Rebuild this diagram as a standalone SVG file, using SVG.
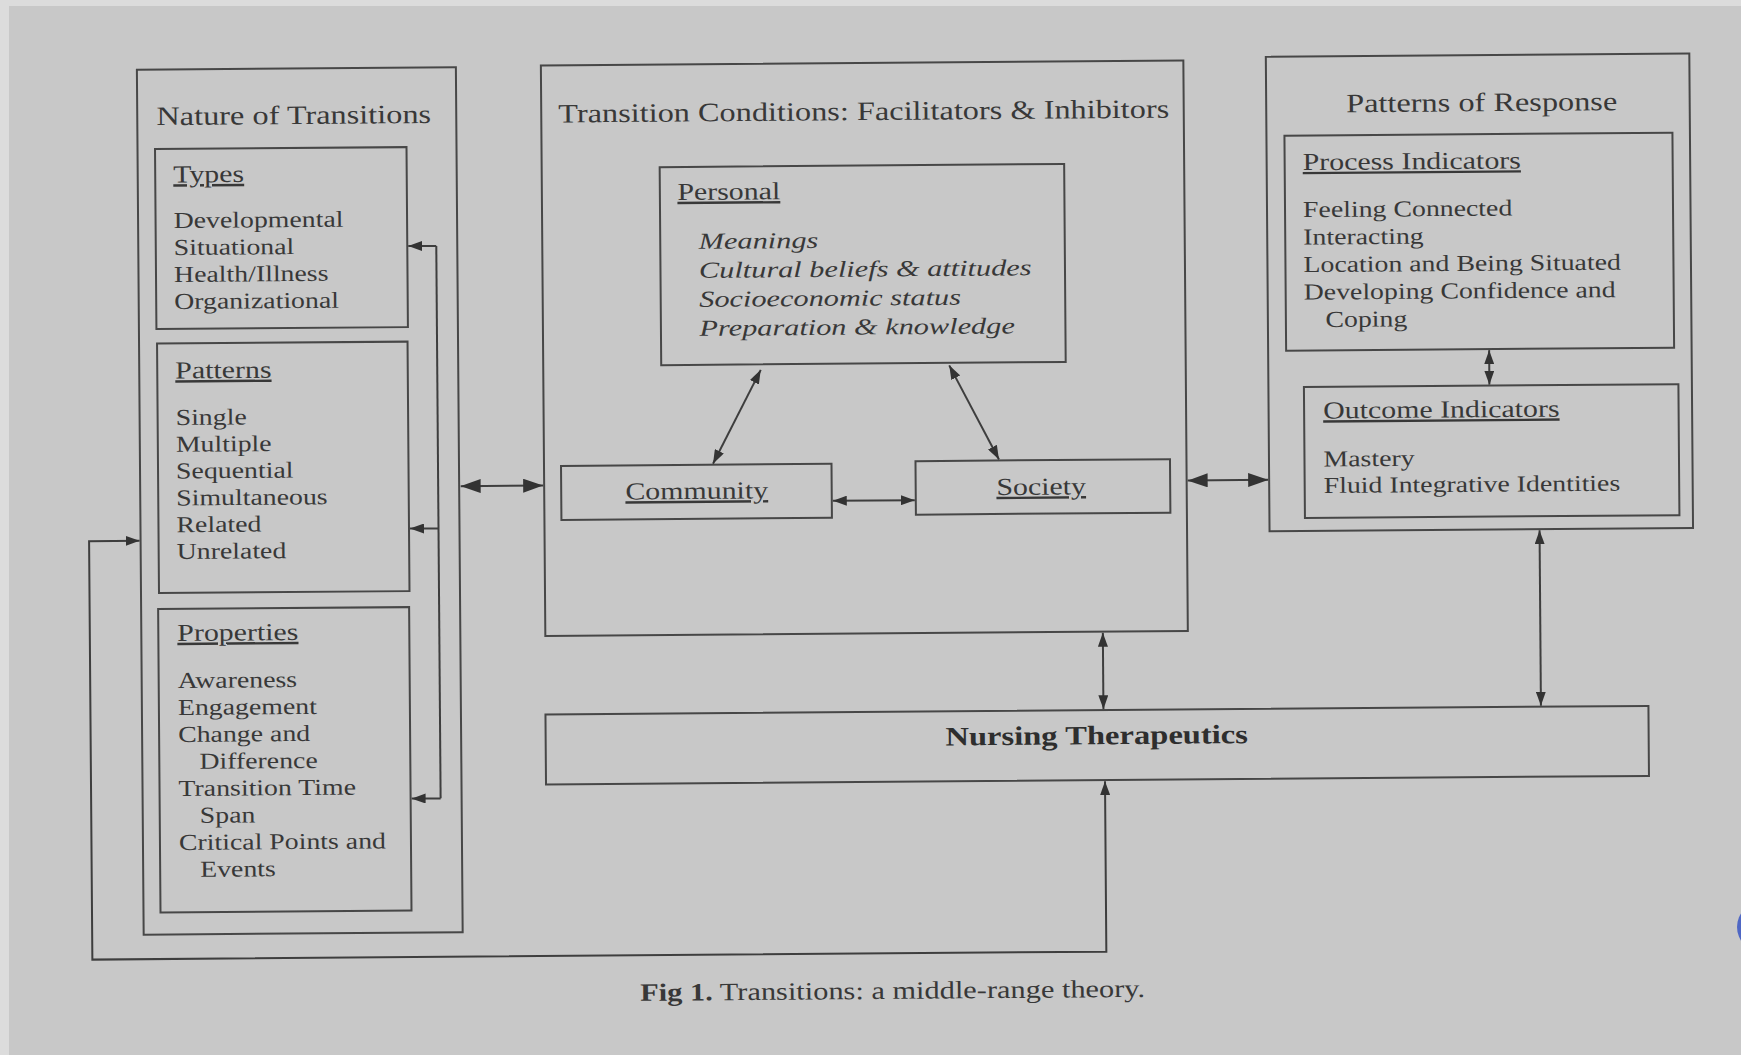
<svg xmlns="http://www.w3.org/2000/svg" width="1741" height="1055" viewBox="0 0 1741 1055">
<defs>
<style>
.box{fill:none;stroke:#474747;stroke-width:2}
.ln{fill:none;stroke:#3e3e3e;stroke-width:2}
text{font-family:"Liberation Serif","Times New Roman",serif;fill:#383838}
.t{font-size:26.5px}
.h{font-size:24.5px;text-decoration:underline}
.b{font-size:22.8px}
.i{font-size:22.8px;font-style:italic}
.m{text-anchor:middle}
.nt{font-size:26.5px;font-weight:bold;fill:#2e2e2e}
.cap{font-size:24.9px}
</style>
<marker id="a" viewBox="0 0 14 10" refX="14" refY="5" markerWidth="14" markerHeight="10" markerUnits="userSpaceOnUse" orient="auto-start-reverse"><path d="M0,0 L14,5 L0,10 z" fill="#333"/></marker>
<marker id="A" viewBox="0 0 20 14" refX="20" refY="7" markerWidth="20" markerHeight="14" markerUnits="userSpaceOnUse" orient="auto-start-reverse"><path d="M0,0 L20,7 L0,14 z" fill="#333"/></marker>
</defs>
<rect width="1741" height="1055" fill="#c8c8c8"/>
<rect x="0" y="0" width="1741" height="6" fill="#dcdcdc"/>
<rect x="0" y="0" width="9" height="1055" fill="#dcdcdc"/>
<circle cx="1762" cy="927" r="25" fill="#4f67c4"/>
<g transform="rotate(-0.45 870 527)">
<g id="nature-of-transitions">
<rect class="box" x="140.5" y="64" width="319" height="865"/>
<text class="t m" transform="translate(297 119.5) scale(1.22 1)">Nature of Transitions</text>
</g>
<g id="types">
<rect class="box" x="158" y="143.5" width="251.5" height="180"/>
<text class="h" transform="translate(176 177) scale(1.22 1)">Types</text>
<text class="b" transform="translate(176 222.5) scale(1.22 1)">Developmental</text>
<text class="b" transform="translate(176 249.5) scale(1.22 1)">Situational</text>
<text class="b" transform="translate(176 276.5) scale(1.22 1)">Health/Illness</text>
<text class="b" transform="translate(176 303.5) scale(1.22 1)">Organizational</text>
</g>
<g id="patterns">
<rect class="box" x="158.5" y="338" width="250.5" height="249.5"/>
<text class="h" transform="translate(176.5 373) scale(1.22 1)">Patterns</text>
<text class="b" transform="translate(176.5 419.5) scale(1.22 1)">Single</text>
<text class="b" transform="translate(176.5 446.3) scale(1.22 1)">Multiple</text>
<text class="b" transform="translate(176.5 473) scale(1.22 1)">Sequential</text>
<text class="b" transform="translate(176.5 500) scale(1.22 1)">Simultaneous</text>
<text class="b" transform="translate(176.5 526.7) scale(1.22 1)">Related</text>
<text class="b" transform="translate(176.5 553.5) scale(1.22 1)">Unrelated</text>
</g>
<g id="properties">
<rect class="box" x="157.5" y="603.5" width="251" height="303.5"/>
<text class="h" transform="translate(176.5 635.5) scale(1.22 1)">Properties</text>
<text class="b" transform="translate(176.5 682.5) scale(1.22 1)">Awareness</text>
<text class="b" transform="translate(176.5 709.5) scale(1.22 1)">Engagement</text>
<text class="b" transform="translate(176.5 736.5) scale(1.22 1)">Change and</text>
<text class="b" transform="translate(197.5 763.5) scale(1.22 1)">Difference</text>
<text class="b" transform="translate(176.5 790.5) scale(1.22 1)">Transition Time</text>
<text class="b" transform="translate(197.5 817.5) scale(1.22 1)">Span</text>
<text class="b" transform="translate(176.5 844.5) scale(1.22 1)">Critical Points and</text>
<text class="b" transform="translate(197.5 871.5) scale(1.22 1)">Events</text>
</g>
<g id="transition-conditions">
<rect class="box" x="544.5" y="63" width="642.5" height="570.5"/>
<text class="t m" transform="translate(867 120) scale(1.22 1)">Transition Conditions: Facilitators &amp; Inhibitors</text>
</g>
<g id="personal">
<rect class="box" x="662.5" y="165.5" width="404.5" height="198"/>
<text class="h" transform="translate(680 198.5) scale(1.22 1)">Personal</text>
<text class="i" transform="translate(701 247.5) scale(1.33 1)">Meanings</text>
<text class="i" transform="translate(701 276.5) scale(1.33 1)">Cultural beliefs &amp; attitudes</text>
<text class="i" transform="translate(701 305.5) scale(1.33 1)">Socioeconomic status</text>
<text class="i" transform="translate(701 334.5) scale(1.33 1)">Preparation &amp; knowledge</text>
</g>
<g id="community">
<rect class="box" x="561.5" y="463.5" width="270.5" height="54"/>
<text class="h m" transform="translate(697 497.5) scale(1.22 1)">Community</text>
</g>
<g id="society">
<rect class="box" x="916" y="461.5" width="254.5" height="53.5"/>
<text class="h m" transform="translate(1041.5 496) scale(1.22 1)">Society</text>
</g>
<g id="patterns-of-response">
<rect class="box" x="1269.5" y="60" width="423.5" height="474.5"/>
<text class="t m" transform="translate(1485 116) scale(1.22 1)">Patterns of Response</text>
</g>
<g id="process-indicators">
<rect class="box" x="1287.5" y="139" width="388" height="215"/>
<text class="h" transform="translate(1305.5 173.5) scale(1.22 1)">Process Indicators</text>
<text class="b" transform="translate(1305.5 220.5) scale(1.22 1)">Feeling Connected</text>
<text class="b" transform="translate(1305.5 248) scale(1.22 1)">Interacting</text>
<text class="b" transform="translate(1305.5 275.5) scale(1.22 1)">Location and Being Situated</text>
<text class="b" transform="translate(1305.5 303) scale(1.22 1)">Developing Confidence and</text>
<text class="b" transform="translate(1327 330.5) scale(1.22 1)">Coping</text>
</g>
<g id="outcome-indicators">
<rect class="box" x="1305" y="390.5" width="374.5" height="131"/>
<text class="h" transform="translate(1324 422) scale(1.22 1)">Outcome Indicators</text>
<text class="b" transform="translate(1324 470) scale(1.22 1)">Mastery</text>
<text class="b" transform="translate(1324 496.5) scale(1.22 1)">Fluid Integrative Identities</text>
</g>
<g id="nursing-therapeutics">
<rect class="box" x="544" y="712" width="1103" height="70"/>
<text class="nt m" transform="translate(1095 746) scale(1.23 1)">Nursing Therapeutics</text>
</g>
<g id="connectors">
<path class="ln" d="M438.5 242.5 V795"/>
<path class="ln" marker-end="url(#a)" d="M438.5 242.5 H410.5"/>
<path class="ln" marker-end="url(#a)" d="M438.5 525 H410"/>
<path class="ln" marker-end="url(#a)" d="M438.5 795 H409.5"/>
<path class="ln" marker-start="url(#a)" marker-end="url(#a)" d="M139.5 535 H89 V953.5 H1103 V783"/>
<path class="ln" marker-start="url(#A)" marker-end="url(#A)" d="M461 483 H543.5"/>
<path class="ln" marker-start="url(#A)" marker-end="url(#A)" d="M1188 483 H1268.5"/>
<path class="ln" marker-start="url(#a)" marker-end="url(#a)" d="M762 369 L713.5 462.5"/>
<path class="ln" marker-start="url(#a)" marker-end="url(#a)" d="M950.5 366 L999.5 460.5"/>
<path class="ln" marker-start="url(#a)" marker-end="url(#a)" d="M833 500.5 H915"/>
<path class="ln" marker-start="url(#a)" marker-end="url(#a)" d="M1102 634.5 V711"/>
<path class="ln" marker-start="url(#a)" marker-end="url(#a)" d="M1539.5 535.5 V711"/>
<path class="ln" marker-start="url(#a)" marker-end="url(#a)" d="M1490.5 355 V389.5"/>
</g>
<g id="caption">
<text class="cap m" transform="translate(889 999) scale(1.22 1)"><tspan font-weight="bold">Fig 1.</tspan> Transitions: a middle-range theory.</text>
</g>
</g>
</svg>
